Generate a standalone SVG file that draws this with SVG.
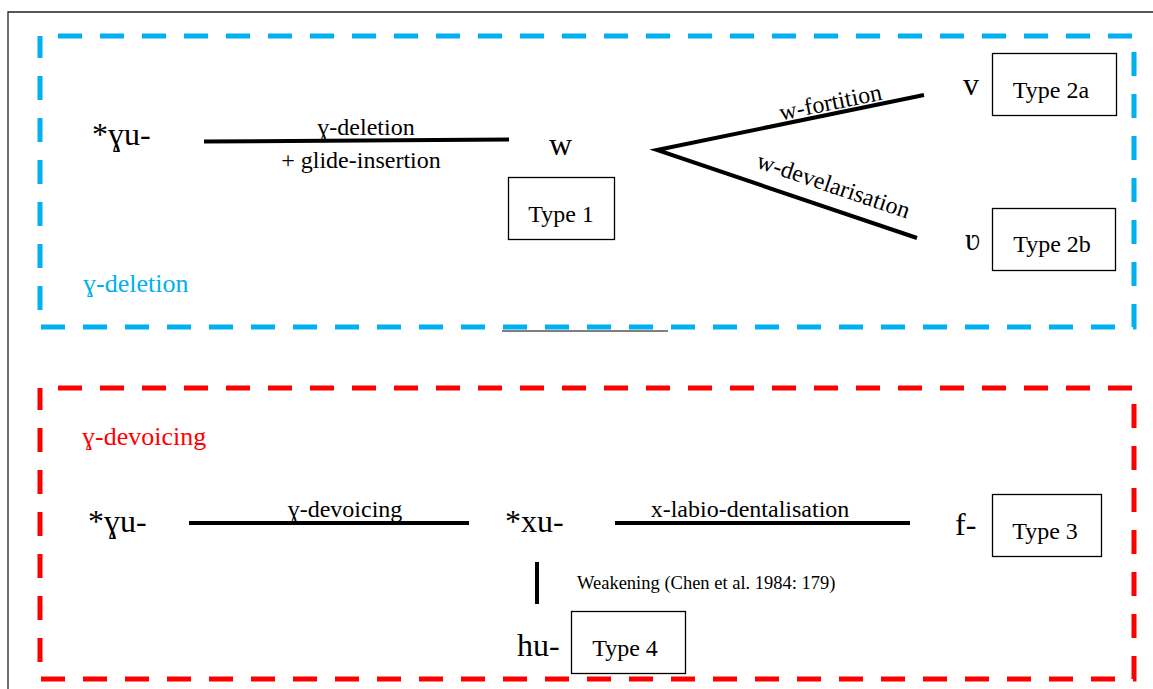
<svg xmlns="http://www.w3.org/2000/svg" width="1153" height="689" viewBox="0 0 1153 689">
  <style>
    text { font-family: "Liberation Serif", "DejaVu Serif", serif; fill: #000; }
    .form { font-size: 32px; }
    .proc { font-size: 24px; }
    .type { font-size: 24px; text-anchor: middle; }
    .small { font-size: 18.5px; }
    .zlabel { font-size: 26px; }
    .box { fill: #fff; stroke: #000; stroke-width: 1.3; }
    .edge { stroke: #000; stroke-width: 4; fill: none; stroke-linecap: butt; }
    .zone { fill: none; stroke-width: 5; stroke-dasharray: 24 18; stroke-dashoffset: 24; }
  </style>

  <rect width="1153" height="689" fill="#fff"/>
  <!-- outer frame -->
  <path d="M8,689 V12 H1153" fill="none" stroke="#222" stroke-width="1.3"/>

  <!-- zones -->
  <g id="zone-deletion">
    <path class="zone" stroke="#00B0F0" d="M40,36 H1134 V327 H40 Z"/>
    <text class="zlabel" x="83" y="292" fill="#00B0F0" style="fill:#00B0F0">ɣ-deletion</text>
  </g>
  <line x1="502" y1="331" x2="668" y2="331" stroke="#555" stroke-width="1.5"/>
  <g id="zone-devoicing">
    <path class="zone" stroke="#FF0000" d="M40,388 H1134 V679 H40 Z"/>
    <text class="zlabel" x="82" y="445" style="fill:#FF0000">ɣ-devoicing</text>
  </g>

  <!-- connectors -->
  <g id="connectors">
    <line class="edge" x1="204" y1="141.5" x2="509" y2="139.5"/>
    <path class="edge" d="M924,95 L657,150 L917,238" stroke-linejoin="miter"/>
    <line class="edge" x1="189" y1="523" x2="469" y2="523"/>
    <line class="edge" x1="615" y1="523" x2="910" y2="523"/>
    <line class="edge" x1="537" y1="562" x2="537" y2="604"/>
    <text class="proc" x="366" y="135" text-anchor="middle">ɣ-deletion</text>
    <text class="proc" x="361" y="168" text-anchor="middle">+ glide-insertion</text>
    <text class="proc" text-anchor="middle" transform="translate(832,110) rotate(-11.6)">w-fortition</text>
    <text class="proc" text-anchor="middle" transform="translate(831,193) rotate(18.7)">w-develarisation</text>
    <text class="proc" x="345" y="517" text-anchor="middle">ɣ-devoicing</text>
    <text class="proc" x="750" y="517" text-anchor="middle">x-labio-dentalisation</text>
    <text class="small" x="577" y="589">Weakening (Chen et al. 1984: 179)</text>
  </g>

  <!-- forms -->
  <g id="n-gu-top"><text class="form" x="92" y="145">*ɣu-</text></g>
  <g id="n-w"><text class="form" x="549" y="155">w</text></g>
  <g id="n-v"><text class="form" x="963" y="95">v</text></g>
  <g id="n-upsilon"><text class="form" x="965" y="250">ʋ</text></g>
  <g id="n-gu-bottom"><text class="form" x="88" y="532">*ɣu-</text></g>
  <g id="n-xu"><text class="form" x="505" y="532">*xu-</text></g>
  <g id="n-f"><text class="form" x="955" y="535">f-</text></g>
  <g id="n-hu"><text class="form" x="517" y="656">hu-</text></g>

  <!-- type boxes -->
  <g id="type-1"><rect class="box" x="508.5" y="177.5" width="106" height="62"/><text class="type" x="561" y="222">Type 1</text></g>
  <g id="type-2a"><rect class="box" x="992.5" y="53.5" width="124" height="62"/><text class="type" x="1051" y="98">Type 2a</text></g>
  <g id="type-2b"><rect class="box" x="992.5" y="208.5" width="123" height="62"/><text class="type" x="1052" y="252">Type 2b</text></g>
  <g id="type-3"><rect class="box" x="992.5" y="494.5" width="109" height="62"/><text class="type" x="1045" y="539">Type 3</text></g>
  <g id="type-4"><rect class="box" x="571.5" y="611.5" width="114" height="62"/><text class="type" x="625" y="656">Type 4</text></g>
</svg>
